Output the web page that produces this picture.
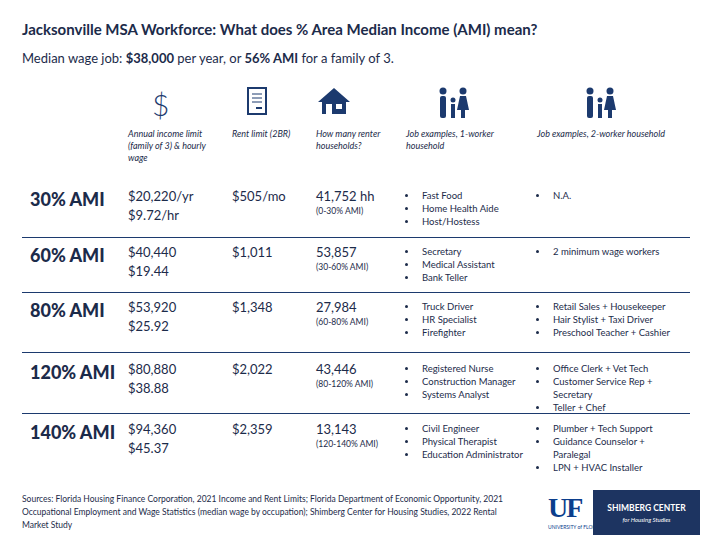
<!DOCTYPE html>
<html><head><meta charset="utf-8">
<script src="https://cdn.jsdelivr.net/npm/chart.js@4"></script>
<style>
body{margin:0;width:720px;height:540px;background:#fff;font-family:Lato,"Open Sans",sans-serif;color:#1c2b4a;position:relative;overflow:hidden}
.a{position:absolute}
.title{left:22px;top:20px;font-size:15px;font-weight:bold}
.sub{left:22px;top:50px;font-size:13px}
.hd{font-size:9px;font-style:italic;line-height:12px}
.lab{font-size:18px;font-weight:900;left:30px}
.val{font-size:13px;line-height:19px}
.sm{font-size:8.5px}
ul{margin:0;padding-left:12px;font-size:9.5px;line-height:13px}
li{padding-left:4px}
.sep{left:22px;width:668px;height:1px;background:#1c3a6e}
.foot{left:22px;top:493px;width:500px;font-size:8.5px;line-height:13px}
</style></head><body>
<div class="a title">Jacksonville MSA Workforce: What does % Area Median Income (AMI) mean?</div>
<div class="a sub">Median wage job: <b>$38,000</b> per year, or <b>56% AMI</b> for a family of 3.</div>
<div id="icons"></div>
<div id="table"></div>
<div class="a foot">Sources: Florida Housing Finance Corporation, 2021 Income and Rent Limits; Florida Department of Economic Opportunity, 2021 Occupational Employment and Wage Statistics (median wage by occupation); Shimberg Center for Housing Studies, 2022 Rental Market Study</div>
<div class="a" style="left:548px;top:492px;font:bold 28px 'Liberation Serif';color:#0b3e8c;letter-spacing:-2px">UF</div>
<div class="a" style="left:548px;top:524px;font-size:5px;color:#0b3e8c">UNIVERSITY of FLORIDA</div>
<div class="a" style="left:593px;top:490px;width:107px;height:45px;background:#1d3461;color:#fff;text-align:center">
<div style="font-size:8.5px;font-weight:bold;margin-top:13px">SHIMBERG CENTER</div>
<div style="font-size:6px;font-style:italic;margin-top:3px">for Housing Studies</div></div>
<script>
const levels = ["30% AMI","60% AMI","80% AMI","120% AMI","140% AMI"];
const incomeYr = ["$20,220/yr","$40,440","$53,920","$80,880","$94,360"];
const wageHr = ["$9.72/hr","$19.44","$25.92","$38.88","$45.37"];
const rentLimit = ["$505/mo","$1,011","$1,348","$2,022","$2,359"];
const renterHH = ["41,752 hh","53,857","27,984","43,446","13,143"];
const hhRange = ["(0-30% AMI)","(30-60% AMI)","(60-80% AMI)","(80-120% AMI)","(120-140% AMI)"];
const jobs1 = [["Fast Food","Home Health Aide","Host/Hostess"],["Secretary","Medical Assistant","Bank Teller"],["Truck Driver","HR Specialist","Firefighter"],["Registered Nurse","Construction Manager","Systems Analyst"],["Civil Engineer","Physical Therapist","Education Administrator"]];
const jobs2 = [["N.A."],["2 minimum wage workers"],["Retail Sales + Housekeeper","Hair Stylist + Taxi Driver","Preschool Teacher + Cashier"],["Office Clerk + Vet Tech","Customer Service Rep + Secretary","Teller + Chef"],["Plumber + Tech Support","Guidance Counselor + Paralegal","LPN + HVAC Installer"]];
const headers = ["Annual income limit (family of 3) &amp; hourly wage","Rent limit (2BR)","How many renter households?","Job examples, 1-worker household","Job examples, 2-worker household"];

const colX=[128,232,316,406,537], rowY=[187,243,298,360,420], sepY=[237,292,352,413];
const hdW=[90,90,80,110,160];
const c="#1c3a6e";
const svgs=[
 `<div style="font-size:30px;font-weight:300;color:${c};margin-left:24px">$</div>`,
 `<svg width="22" height="30" style="margin-left:14px"><rect x="2" y="2" width="18" height="26" fill="none" stroke="${c}" stroke-width="2"/><line x1="6" y1="8" x2="16" y2="8" stroke="${c}"/><line x1="6" y1="12" x2="16" y2="12" stroke="${c}"/><line x1="6" y1="16" x2="16" y2="16" stroke="${c}"/><line x1="10" y1="22" x2="16" y2="22" stroke="${c}" stroke-width="2"/></svg>`,
 `<svg width="36" height="30"><polygon points="18,2 2,16 6,16 6,28 30,28 30,16 34,16" fill="${c}"/><rect x="10" y="18" width="6" height="10" fill="#fff"/><rect x="20" y="18" width="6" height="5" fill="#fff"/></svg>`,
 `<svg width="40" height="34" style="margin-left:26px"><circle cx="11" cy="5" r="3.5" fill="${c}"/><rect x="8" y="10" width="6" height="22" rx="2" fill="${c}"/><circle cx="21" cy="14" r="2.5" fill="${c}"/><rect x="19" y="18" width="4" height="14" fill="${c}"/><circle cx="31" cy="5" r="3.5" fill="${c}"/><polygon points="28,10 34,10 37,24 25,24" fill="${c}"/><rect x="29" y="24" width="4" height="8" fill="${c}"/></svg>`,
 `<svg width="40" height="34" style="margin-left:42px"><circle cx="11" cy="5" r="3.5" fill="${c}"/><rect x="8" y="10" width="6" height="22" rx="2" fill="${c}"/><circle cx="21" cy="14" r="2.5" fill="${c}"/><rect x="19" y="18" width="4" height="14" fill="${c}"/><circle cx="31" cy="5" r="3.5" fill="${c}"/><polygon points="28,10 34,10 37,24 25,24" fill="${c}"/><rect x="29" y="24" width="4" height="8" fill="${c}"/></svg>`];
let h="";
colX.forEach((x,i)=>{
  h+=`<div class="a" style="left:${x}px;top:86px">${svgs[i]}</div>`;
  h+=`<div class="a hd" style="left:${x}px;top:128px;width:${hdW[i]}px">${headers[i]}</div>`;
});
document.getElementById("icons").innerHTML=h;
h="";
levels.forEach((l,i)=>{
  const y=rowY[i];
  h+=`<div class="a lab" style="top:${y+1}px">${l}</div>`;
  h+=`<div class="a val" style="left:${colX[0]}px;top:${y}px">${incomeYr[i]}<br>${wageHr[i]}</div>`;
  h+=`<div class="a val" style="left:${colX[1]}px;top:${y}px">${rentLimit[i]}</div>`;
  h+=`<div class="a val" style="left:${colX[2]}px;top:${y}px">${renterHH[i]}<div class="sm" style="line-height:10px">${hhRange[i]}</div></div>`;
  h+=`<div class="a" style="left:${colX[3]}px;top:${y+2}px;width:125px"><ul>${jobs1[i].map(j=>"<li>"+j+"</li>").join("")}</ul></div>`;
  h+=`<div class="a" style="left:${colX[4]}px;top:${y+2}px;width:135px"><ul>${jobs2[i].map(j=>"<li>"+j+"</li>").join("")}</ul></div>`;
});
sepY.forEach(y=>h+=`<div class="a sep" style="top:${y}px"></div>`);
document.getElementById("table").innerHTML=h;
</script>
</body></html>
